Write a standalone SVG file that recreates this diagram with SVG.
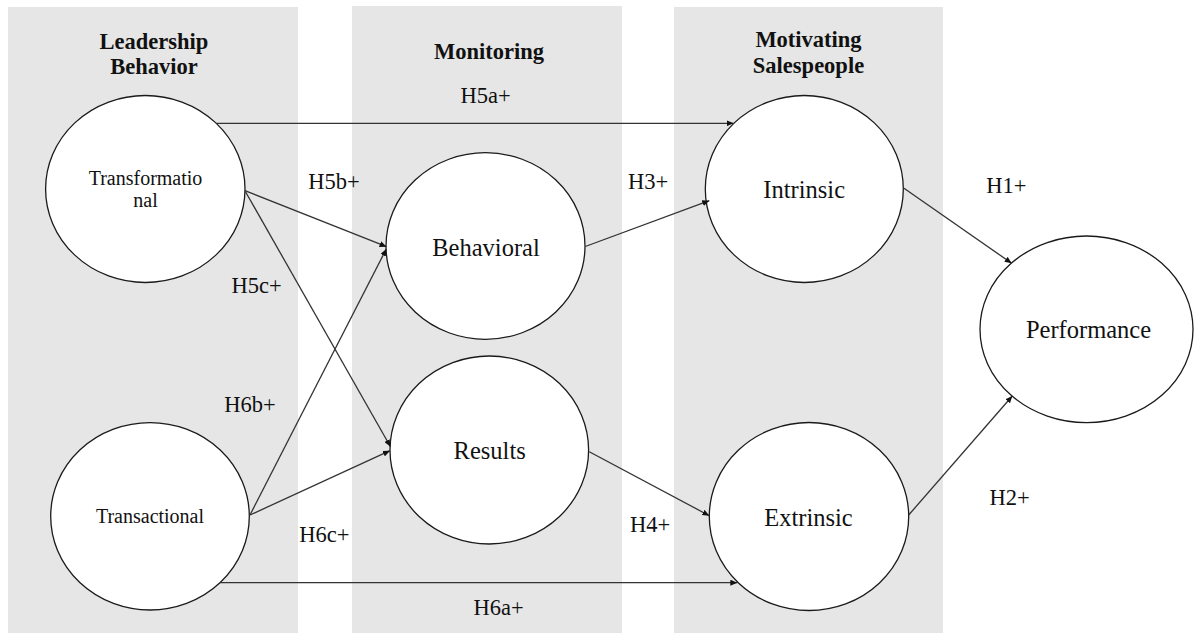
<svg xmlns="http://www.w3.org/2000/svg" width="1194" height="633" viewBox="0 0 1194 633">
<defs>
<style>
.panel{fill:#e6e6e6;stroke:none}
.node{fill:#ffffff;stroke:#1a1a1a;stroke-width:1.3}
.nt{font-family:"Liberation Serif","Times New Roman",serif;font-size:24.5px;fill:#111;text-anchor:middle}
.ns{font-family:"Liberation Serif","Times New Roman",serif;font-size:20px;fill:#111;text-anchor:middle}
.hd{font-family:"Liberation Serif","Times New Roman",serif;font-size:22.5px;font-weight:bold;fill:#111;text-anchor:middle}
.lb{font-family:"Liberation Serif","Times New Roman",serif;font-size:22.5px;fill:#111;text-anchor:middle}
.edge{stroke:#333;stroke-width:1.3;fill:none;marker-end:url(#arr)}
</style>
<marker id="arr" markerUnits="userSpaceOnUse" markerWidth="8" markerHeight="6" refX="7" refY="3" orient="auto">
<path d="M0,0 L7,3 L0,6 z" fill="#111"/>
</marker>
</defs>
<rect width="1194" height="633" fill="#ffffff"/>
<g id="panels">
<rect class="panel" x="8" y="7" width="290" height="626"/>
<rect class="panel" x="352" y="6" width="270" height="627"/>
<rect class="panel" x="674" y="7" width="269" height="626"/>
<text class="hd" x="154" y="48.5">Leadership</text>
<text class="hd" x="154" y="74">Behavior</text>
<text class="hd" x="489" y="58.5">Monitoring</text>
<text class="hd" x="808.5" y="46.5">Motivating</text>
<text class="hd" x="808.5" y="72.5">Salespeople</text>
</g>
<g id="transformational">
<ellipse class="node" cx="145.3" cy="189" rx="99.7" ry="93.5"/>
<text class="ns" x="145.5" y="185">Transformatio</text>
<text class="ns" x="145.5" y="206.5">nal</text>
</g>
<g id="transactional">
<ellipse class="node" cx="150" cy="516.3" rx="99.3" ry="93.7"/>
<text class="ns" x="150" y="523.3">Transactional</text>
</g>
<g id="behavioral">
<ellipse class="node" cx="485.5" cy="246" rx="99.5" ry="93.3"/>
<text class="nt" x="486" y="256">Behavioral</text>
</g>
<g id="results">
<ellipse class="node" cx="489.3" cy="450" rx="99.3" ry="94"/>
<text class="nt" x="489.7" y="459.3">Results</text>
</g>
<g id="intrinsic">
<ellipse class="node" cx="804.3" cy="189" rx="99" ry="93.5"/>
<text class="nt" x="804.2" y="198.3">Intrinsic</text>
</g>
<g id="extrinsic">
<ellipse class="node" cx="809" cy="516.5" rx="99.7" ry="94"/>
<text class="nt" x="808.5" y="526">Extrinsic</text>
</g>
<g id="performance">
<ellipse class="node" cx="1086.5" cy="329.3" rx="106.5" ry="93.3"/>
<text class="nt" x="1088.5" y="338.3">Performance</text>
</g>
<g id="connectors">
<line class="edge" x1="216.5" y1="123.3" x2="733.5" y2="123.3"/>
<line class="edge" x1="245" y1="190.7" x2="386.5" y2="246.7"/>
<line class="edge" x1="245.5" y1="191.7" x2="390.5" y2="446.7"/>
<line class="edge" x1="250" y1="515" x2="386.3" y2="249"/>
<line class="edge" x1="250" y1="515" x2="390" y2="450.7"/>
<line class="edge" x1="220" y1="582.7" x2="737.3" y2="582.7"/>
<line class="edge" x1="585.3" y1="246.5" x2="709.3" y2="200.7"/>
<line class="edge" x1="589.3" y1="451.7" x2="709.3" y2="515.7"/>
<line class="edge" x1="904" y1="188.3" x2="1011.7" y2="263.3"/>
<line class="edge" x1="908.7" y1="515" x2="1012.3" y2="396"/>
<text class="lb" x="485.5" y="103.3">H5a+</text>
<text class="lb" x="334" y="189">H5b+</text>
<text class="lb" x="256.7" y="292.7">H5c+</text>
<text class="lb" x="250" y="411.7">H6b+</text>
<text class="lb" x="324.3" y="541.7">H6c+</text>
<text class="lb" x="498.7" y="615">H6a+</text>
<text class="lb" x="648" y="189">H3+</text>
<text class="lb" x="650" y="531.7">H4+</text>
<text class="lb" x="1006.3" y="193.3">H1+</text>
<text class="lb" x="1009.7" y="505">H2+</text>
</g>
</svg>
